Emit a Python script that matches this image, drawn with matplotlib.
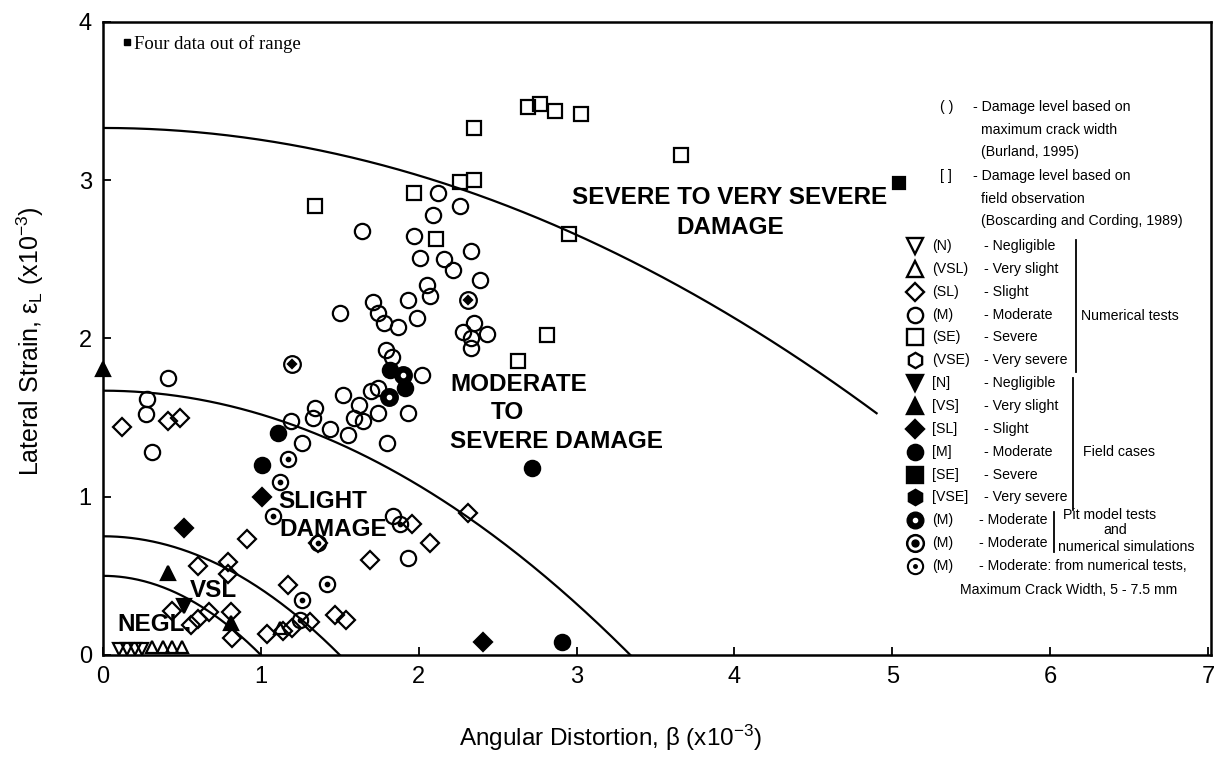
import numpy as np
import matplotlib
matplotlib.use('Agg')
import matplotlib.pyplot as plt

plt.rcParams['font.family'] = ['Liberation Sans', 'DejaVu Sans']
plt.rcParams['mathtext.fontset'] = 'custom'
plt.rcParams['mathtext.rm'] = 'Liberation Sans'
plt.rcParams['mathtext.it'] = 'Liberation Sans:italic'

# limiting strain of each damage boundary (x10^-3) and how far each curve is drawn
eps_lim = [3.33, 1.67, 0.75, 0.50]
beta_end = [4.90, 3.34, 1.50, 1.00]

# numerical tests (open symbols)
num_N_x = [0.10, 0.15, 0.20, 0.25]
num_N_y = [0.04, 0.04, 0.04, 0.04]
num_VSL_x = [0.31, 0.38, 0.44, 0.50, 1.12]
num_VSL_y = [0.05, 0.05, 0.05, 0.05, 0.17]
num_SL_x = [0.12, 0.41, 0.49, 0.91, 2.31, 1.96, 2.07, 1.69, 0.60, 0.79, 0.79, 1.17, 0.44,
            0.67, 0.60, 0.56, 0.81, 0.82, 1.04, 1.14, 1.20, 1.31, 1.47, 1.54, 1.36]
num_SL_y = [1.44, 1.48, 1.50, 0.73, 0.90, 0.83, 0.71, 0.60, 0.56, 0.59, 0.51, 0.44, 0.28,
            0.27, 0.23, 0.19, 0.27, 0.11, 0.13, 0.15, 0.17, 0.21, 0.25, 0.22, 0.71]
num_M_x = [2.12, 2.26, 2.09, 1.64, 1.97, 2.33, 2.01, 2.16, 2.22, 2.39, 2.05, 2.07, 1.93,
           1.71, 1.74, 1.50, 1.78, 1.87, 1.99, 2.35, 2.28, 2.43, 2.33, 2.33, 1.79, 1.83,
           2.02, 1.74, 1.52, 1.62, 1.74, 1.93, 1.34, 1.33, 1.59, 1.65, 1.44, 1.55, 1.80,
           1.19, 1.26, 0.41, 0.28, 0.27, 0.31, 1.84, 1.93, 1.70]
num_M_y = [2.92, 2.84, 2.78, 2.68, 2.65, 2.55, 2.51, 2.50, 2.43, 2.37, 2.34, 2.27, 2.24,
           2.23, 2.16, 2.16, 2.10, 2.07, 2.13, 2.10, 2.04, 2.03, 2.00, 1.94, 1.93, 1.88,
           1.77, 1.69, 1.64, 1.58, 1.53, 1.53, 1.56, 1.50, 1.50, 1.48, 1.43, 1.39, 1.34,
           1.48, 1.34, 1.75, 1.62, 1.52, 1.28, 0.88, 0.61, 1.67]
num_SE_x = [1.34, 2.35, 2.69, 2.77, 2.86, 3.03, 3.66, 2.35, 2.26, 1.97, 2.11, 2.95, 2.81, 2.63]
num_SE_y = [2.84, 3.33, 3.46, 3.48, 3.44, 3.42, 3.16, 3.00, 2.99, 2.92, 2.63, 2.66, 2.02, 1.86]

# field cases (filled symbols)
fld_N_x, fld_N_y = [0.51], [0.31]
fld_VS_x, fld_VS_y = [0.00, 0.41, 0.81], [1.81, 0.52, 0.20]
fld_SL_x, fld_SL_y = [1.01, 0.51, 2.41], [1.00, 0.80, 0.08]
fld_M_x = [1.82, 1.91, 1.11, 1.01, 2.72, 2.91]
fld_M_y = [1.80, 1.69, 1.40, 1.20, 1.18, 0.08]
fld_SE_x, fld_SE_y = [5.04], [2.98]

# pit model tests / numerical simulations
pit1_x, pit1_y = [1.90, 1.81], [1.77, 1.63]
pit2_x, pit2_y = [1.20, 2.31], [1.84, 2.24]
crack_x = [1.17, 1.12, 1.08, 1.36, 1.42, 1.26, 1.25, 1.88]
crack_y = [1.24, 1.09, 0.88, 0.71, 0.45, 0.35, 0.22, 0.83]

fig = plt.figure(figsize=(12.26, 7.64), dpi=100)
ax = fig.add_axes([0.084, 0.1427, 0.904, 0.8286])

for e, b in zip(eps_lim, beta_end):
    bb = np.linspace(0, b, 200)
    ax.plot(bb, e - bb**2 / (4 * e), color='black', lw=1.6)

kw = dict(ls='none', color='black', mew=1.6, clip_on=False)
ax.plot(num_N_x, num_N_y, marker='v', ms=9, mfc='none', **kw)
ax.plot(num_VSL_x, num_VSL_y, marker='^', ms=9, mfc='none', **kw)
ax.plot(num_SL_x, num_SL_y, marker='D', ms=9, mfc='none', **kw)
ax.plot(num_M_x, num_M_y, marker='o', ms=11, mfc='none', **kw)
ax.plot(num_SE_x, num_SE_y, marker='s', ms=9.5, mfc='none', **kw)
ax.plot(fld_N_x, fld_N_y, marker='v', ms=10, **kw)
ax.plot(fld_VS_x, fld_VS_y, marker='^', ms=10, **kw)
ax.plot(fld_SL_x, fld_SL_y, marker='D', ms=9, **kw)
ax.plot(fld_M_x, fld_M_y, marker='o', ms=11, **kw)
ax.plot(fld_SE_x, fld_SE_y, marker='s', ms=8, **kw)
ax.plot(pit1_x, pit1_y, marker='o', ms=12, **kw)
ax.plot(pit1_x, pit1_y, marker='o', ms=3, ls='none', color='white', clip_on=False)
ax.plot(pit2_x, pit2_y, marker='o', ms=12, mfc='none', **kw)
ax.plot(pit2_x, pit2_y, marker='D', ms=4.5, **kw)
ax.plot(crack_x, crack_y, marker='o', ms=11, mfc='none', **kw)
ax.plot(crack_x, crack_y, marker='o', ms=2.5, **kw)

# zone labels
lab = dict(fontsize=17.5, fontweight='bold', va='center')
ax.text(3.97, 2.89, 'SEVERE TO VERY SEVERE', ha='center', **lab)
ax.text(3.97, 2.70, 'DAMAGE', ha='center', **lab)
ax.text(2.20, 1.71, 'MODERATE', ha='left', **lab)
ax.text(2.56, 1.53, 'TO', ha='center', **lab)
ax.text(2.20, 1.35, 'SEVERE DAMAGE', ha='left', **lab)
ax.text(1.11, 0.97, 'SLIGHT', ha='left', **lab)
ax.text(1.12, 0.79, 'DAMAGE', ha='left', **lab)
ax.text(0.55, 0.41, 'VSL', ha='left', **lab)
ax.text(0.09, 0.19, 'NEGL.', ha='left', **lab)

# note
ax.plot([0.0217], [0.968], marker='s', ms=4, color='black', transform=ax.transAxes)
ax.text(0.028, 0.965, 'Four data out of range', transform=ax.transAxes, fontsize=13.5,
        family='Liberation Serif', va='center')

# hand-built legend block on the right
T = ax.transAxes
fs = 10.2
hdr = [(0.866, '( )', '- Damage level based on'), (0.829, None, 'maximum crack width'),
       (0.795, None, '(Burland, 1995)'),
       (0.757, '[ ]', '- Damage level based on'), (0.720, None, 'field observation'),
       (0.686, None, '(Boscarding and Cording, 1989)')]
for y, br, s in hdr:
    if br:
        ax.text(0.755, y, br, transform=T, fontsize=fs, va='center')
        ax.text(0.785, y, s, transform=T, fontsize=fs, va='center')
    else:
        ax.text(0.792, y, s, transform=T, fontsize=fs, va='center')

rows = [('v', 'none', '(N)', '- Negligible'), ('^', 'none', '(VSL)', '- Very slight'),
        ('D', 'none', '(SL)', '- Slight'), ('o', 'none', '(M)', '- Moderate'),
        ('s', 'none', '(SE)', '- Severe'), ('h', 'none', '(VSE)', '- Very severe'),
        ('v', 'black', '[N]', '- Negligible'), ('^', 'black', '[VS]', '- Very slight'),
        ('D', 'black', '[SL]', '- Slight'), ('o', 'black', '[M]', '- Moderate'),
        ('s', 'black', '[SE]', '- Severe'), ('h', 'black', '[VSE]', '- Very severe'),
        ('pit1', None, '(M)', '- Moderate'), ('pit2', None, '(M)', '- Moderate'),
        ('crack', None, '(M)', '- Moderate: from numerical tests,')]
y0, dy = 0.646, 0.0361
for i, (m, fc, code, desc) in enumerate(rows):
    y = y0 - i * dy
    mx = 0.733
    if m == 'pit1':
        ax.plot([mx], [y], marker='o', ms=12, color='black', transform=T)
        ax.plot([mx], [y], marker='o', ms=3, color='white', transform=T)
    elif m == 'pit2':
        ax.plot([mx], [y], marker='o', ms=12, mfc='none', mew=1.8, color='black', transform=T)
        ax.plot([mx], [y], marker='o', ms=5, color='black', transform=T)
    elif m == 'crack':
        ax.plot([mx], [y], marker='o', ms=11, mfc='none', mew=1.5, color='black', transform=T)
        ax.plot([mx], [y], marker='o', ms=2.5, color='black', transform=T)
    else:
        ax.plot([mx], [y], marker=m, ms=11 if m != 'D' else 9.5, mfc=fc, mew=1.7,
                color='black', transform=T)
    ax.text(0.748, y, code, transform=T, fontsize=fs, va='center')
    ax.text(0.795 if i < 12 else 0.790, y, desc, transform=T, fontsize=fs, va='center')
ax.text(0.773, 0.103, 'Maximum Crack Width, 5 - 7.5 mm', transform=T, fontsize=fs, va='center')

ax.plot([0.878, 0.878], [0.656, 0.447], color='black', lw=1.3, transform=T)
ax.text(0.882, 0.536, 'Numerical tests', transform=T, fontsize=fs, va='center')
ax.plot([0.875, 0.875], [0.438, 0.229], color='black', lw=1.3, transform=T)
ax.text(0.884, 0.321, 'Field cases', transform=T, fontsize=fs, va='center')
ax.plot([0.858, 0.858], [0.226, 0.163], color='black', lw=1.3, transform=T)
ax.text(0.866, 0.221, 'Pit model tests', transform=T, fontsize=fs, va='center')
ax.text(0.913, 0.197, 'and', transform=T, fontsize=fs, va='center', ha='center')
ax.text(0.862, 0.171, 'numerical simulations', transform=T, fontsize=fs, va='center')

ax.set_xlim(0, 7.02)
ax.set_ylim(0, 4)
ax.set_xticks(range(8))
ax.set_yticks(range(5))
ax.tick_params(direction='in', length=6, width=1.3, labelsize=17, pad=8)
for s in ax.spines.values():
    s.set_linewidth(1.8)

# axis titles placed where they sit in the original
fig.text(610 / 1226, 1 - 738 / 764, 'Angular Distortion, β (x10$^{-3}$)', fontsize=17.5,
         ha='center', va='center')
fig.text(30 / 1226, 1 - 341 / 764, 'Lateral Strain, ε$_{\\rm L}$ (x10$^{-3}$)', fontsize=18,
         ha='center', va='center', rotation=90)

fig.savefig('out.png', dpi=100)
